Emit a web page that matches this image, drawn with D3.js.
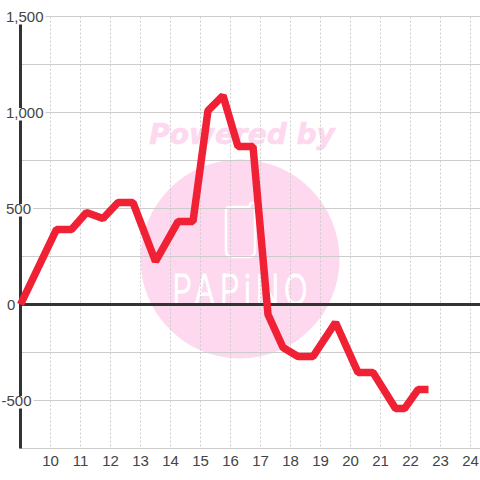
<!DOCTYPE html>
<html><head><meta charset="utf-8">
<script src="https://cdn.jsdelivr.net/npm/d3@7"></script>
<style>html,body{margin:0;padding:0;background:#fff}svg{display:block}</style></head>
<body><svg id="c" width="480" height="480"></svg>
<script>
const xValues=[9,10.2,10.7,11.2,11.75,12.25,12.75,13.5,14.25,14.75,15.25,15.75,16.25,16.75,17.25,17.75,18.25,18.75,19.5,20.25,20.75,21.5,21.8,22.25,22.6];
const yValues=[0,391,391,479,448,531,531,224,432,432,1010,1088,823,823,-52,-224,-271,-271,-94,-354,-354,-542,-542,-443,-443];
const xTicks=[10,11,12,13,14,15,16,17,18,19,20,21,22,23,24];
const yLabelled=[1500,1000,500,0,-500];
const yLabelText=["1,500","1,000","500","0","-500"];
const yGrid=[1500,1250,1000,750,500,250,-250,-500,-750];
const watermarkTitle="Powered by";
const watermarkName="PAPiNO";

const svg=d3.select("#c");
const x=d3.scaleLinear().domain([9,24]).range([20.5,470.5]);
const y=d3.scaleLinear().domain([-750,1500]).range([448.5,16.5]);

// watermark
svg.append("text").attr("x",242).attr("y",144).attr("text-anchor","middle")
  .attr("font-family","DejaVu Sans").attr("font-weight","bold").attr("font-style","italic")
  .attr("font-size",28).attr("fill","#fdd8ef").attr("stroke","#fdd8ef").attr("stroke-width",.6).text(watermarkTitle);
svg.append("circle").attr("cx",240).attr("cy",259).attr("r",99.5).attr("fill","#fdd8ef");
svg.append("path").attr("fill","none").attr("stroke","#fff").attr("stroke-width",2.5)
  .attr("d","M230 207H248Q250 207 250 205Q250 203 252 203H255V250Q255 257 249 257H232Q226 257 226 250V211Q226 207 230 207Z");
svg.append("text").attr("x",0).attr("y",0).attr("transform","translate(240,305) scale(1.05,1.4)").attr("text-anchor","middle")
  .attr("font-family","Inter").attr("font-weight",300).attr("font-size",30)
  .attr("textLength",129).attr("lengthAdjust","spacing").attr("fill","#fff").attr("stroke","#fff").attr("stroke-width",.7).text(watermarkName);

// grid
svg.append("g").selectAll("line").data(xTicks).join("line")
  .attr("x1",d=>x(d)).attr("x2",d=>x(d)).attr("y1",y(1500)).attr("y2",y(-750))
  .attr("stroke","#cccccc").attr("stroke-dasharray","2 2");
svg.append("g").selectAll("line").data(yGrid).join("line")
  .attr("x1",20).attr("x2",480).attr("y1",d=>y(d)).attr("y2",d=>y(d))
  .attr("stroke","#cccccc");

// axes
svg.append("line").attr("x1",20.5).attr("x2",20.5).attr("y1",y(1500)).attr("y2",y(-750))
  .attr("stroke","#333").attr("stroke-width",3);
svg.append("line").attr("x1",20).attr("x2",480).attr("y1",y(0)).attr("y2",y(0))
  .attr("stroke","#333").attr("stroke-width",3);

// y labels on white plates
const labels=svg.append("g").selectAll("g").data(yLabelled).join("g");
const texts=labels.append("text")
  .attr("x",d=>d===-500?1.5:(d===0?7:6)).attr("y",d=>y(d)+5.5)
  .attr("font-family","Liberation Sans").attr("font-size",15).attr("fill","#444")
  .text((d,i)=>yLabelText[i]);
texts.each(function(){
  const b=this.getBBox();
  d3.select(this.parentNode).insert("rect","text")
    .attr("x",b.x-1).attr("width",b.width+3).attr("y",+this.getAttribute("y")-10).attr("height",12.5).attr("fill","#fff");
});
// x labels
svg.append("g").selectAll("text").data(xTicks).join("text")
  .attr("x",d=>x(d)).attr("y",466).attr("text-anchor","middle")
  .attr("font-family","Liberation Sans").attr("font-size",15).attr("fill","#444")
  .text(d=>d);

// line
svg.append("path").datum(xValues.map((d,i)=>[d,yValues[i]]))
  .attr("fill","none").attr("stroke","#f02035").attr("stroke-width",7.5).attr("stroke-linejoin","bevel")
  .attr("d",d3.line().x(d=>x(d[0])).y(d=>y(d[1])));
</script></body></html>
